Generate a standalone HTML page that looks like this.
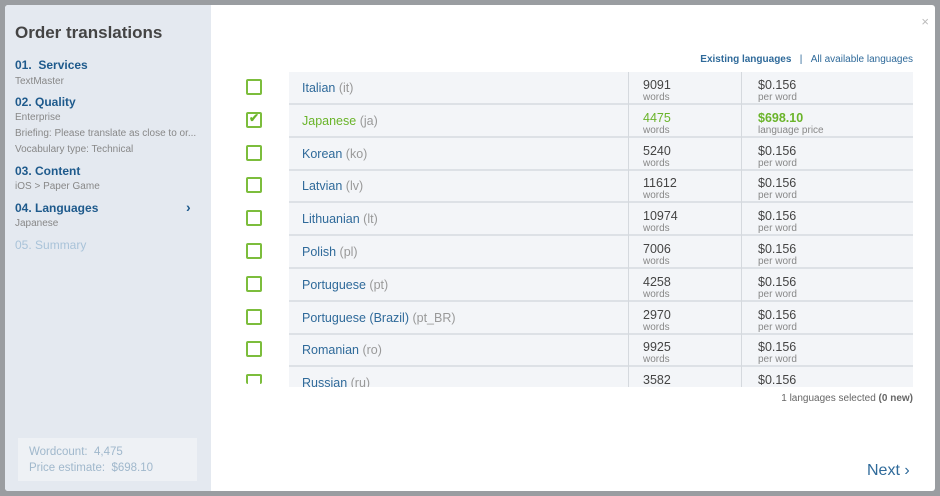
<!DOCTYPE html><html><head><style>
*{margin:0;padding:0;box-sizing:border-box}
body{width:940px;height:496px;background:#9a9da1;font-family:"Liberation Sans",sans-serif;position:relative;overflow:hidden}
.modal{position:absolute;left:5px;top:5px;width:930px;height:486px;background:#fff;border-radius:3px;overflow:hidden}
.side{position:absolute;left:0;top:0;width:206px;height:486px;background:#e4e9f0}
.s{position:absolute;left:10px;font-size:12px;color:#1e5a8c;font-weight:bold}
.g{position:absolute;left:10px;font-size:10px;color:#888}
.tbl{position:absolute;left:284px;top:67px;width:624px;height:315px;overflow:hidden;background:#f3f5f8}
.row{position:absolute;left:0;width:624px;height:33px;border-bottom:2px solid #dde1e6}
.c1{position:absolute;left:13px;top:9px;font-size:12.5px;color:#2f6a9a}
.c1 span{color:#999}
.c2{position:absolute;left:339px;top:0;width:114px;height:33px;border-left:1px solid #d5d9de;border-right:1px solid #d5d9de;padding:8px 0 0 14px;font-size:12.5px;color:#444;line-height:11px}
.c3{position:absolute;left:469px;top:8px;font-size:12.5px;color:#444;line-height:11px}
.sm{font-size:10px;color:#888}
.cb{position:absolute;left:241px;width:16px;height:16px;border:2px solid #7cbd3c;border-radius:2px;background:#fff}
</style></head><body>
<div class="modal">
<div class="side">
<div style="position:absolute;left:10px;top:18px;font-size:17px;color:#444;font-weight:bold">Order translations</div>
<div class="s" style="top:53px">01.&nbsp; Services</div><div class="g" style="top:71px">TextMaster</div>
<div class="s" style="top:90px">02. Quality</div><div class="g" style="top:107px">Enterprise</div>
<div class="g" style="top:123px">Briefing: Please translate as close to or...</div>
<div class="g" style="top:139px">Vocabulary type: Technical</div>
<div class="s" style="top:159px">03. Content</div><div class="g" style="top:176px">iOS &gt; Paper Game</div>
<div class="s" style="top:196px">04. Languages</div><div class="s" style="top:194px;left:181px;font-size:14px">›</div><div class="g" style="top:213px">Japanese</div>
<div class="s" style="top:233px;color:#a9c3d9;font-weight:normal">05. Summary</div>
<div style="position:absolute;left:13px;top:433px;width:179px;height:43px;background:#eef1f5;padding:6px 0 0 11px;font-size:11.5px;color:#a0b8cc;line-height:16px">Wordcount:&nbsp; 4,475<br>Price estimate:&nbsp; $698.10</div>
</div>
<div style="position:absolute;right:6px;top:9px;color:#bbb;font-size:13px">×</div>
<div style="position:absolute;right:22px;top:49px;font-size:10px;color:#2f6a9a"><b>Existing languages</b>&nbsp;&nbsp; | &nbsp;&nbsp;All available languages</div>
<div class="tbl"></div>
<div id="cbs"></div>
<div style="position:absolute;right:22px;top:388px;font-size:10px;color:#666">1 languages selected <b>(0 new)</b></div>
<div style="position:absolute;left:862px;top:457px;font-size:16px;color:#2f6a9a">Next ›</div>
</div>
<script>
var d=[["Italian","it","9091"],["Japanese","ja","4475"],["Korean","ko","5240"],["Latvian","lv","11612"],["Lithuanian","lt","10974"],["Polish","pl","7006"],["Portuguese","pt","4258"],["Portuguese (Brazil)","pt_BR","2970"],["Romanian","ro","9925"],["Russian","ru","3582"]];
var t=document.querySelector('.tbl'),h='',c='';
d.forEach(function(r,i){var y=i*32.8,j=i==1;
h+='<div class="row" style="top:'+y+'px"><div class="c1"'+(j?' style="color:#6ab42a"':'')+'>'+r[0]+' <span>('+r[1]+')</span></div><div class="c2"><span'+(j?' style="color:#6ab42a"':'')+'>'+r[2]+'</span><br><span class="sm">words</span></div><div class="c3"><span'+(j?' style="color:#6ab42a;font-weight:bold"':'')+'>'+(j?'$698.10':'$0.156')+'</span><br><span class="sm">'+(j?'language price':'per word')+'</span></div></div>';
c+='<div class="cb" style="top:'+(74+y)+'px;'+(i==9?'height:10px;border-bottom:none':'')+'">'+(j?'<span style="position:absolute;left:1px;top:-3px;color:#6ab42a;font-size:12px;font-weight:bold">✔</span>':'')+'</div>';});
t.innerHTML=h;document.getElementById('cbs').innerHTML=c;
</script>
</body></html>
